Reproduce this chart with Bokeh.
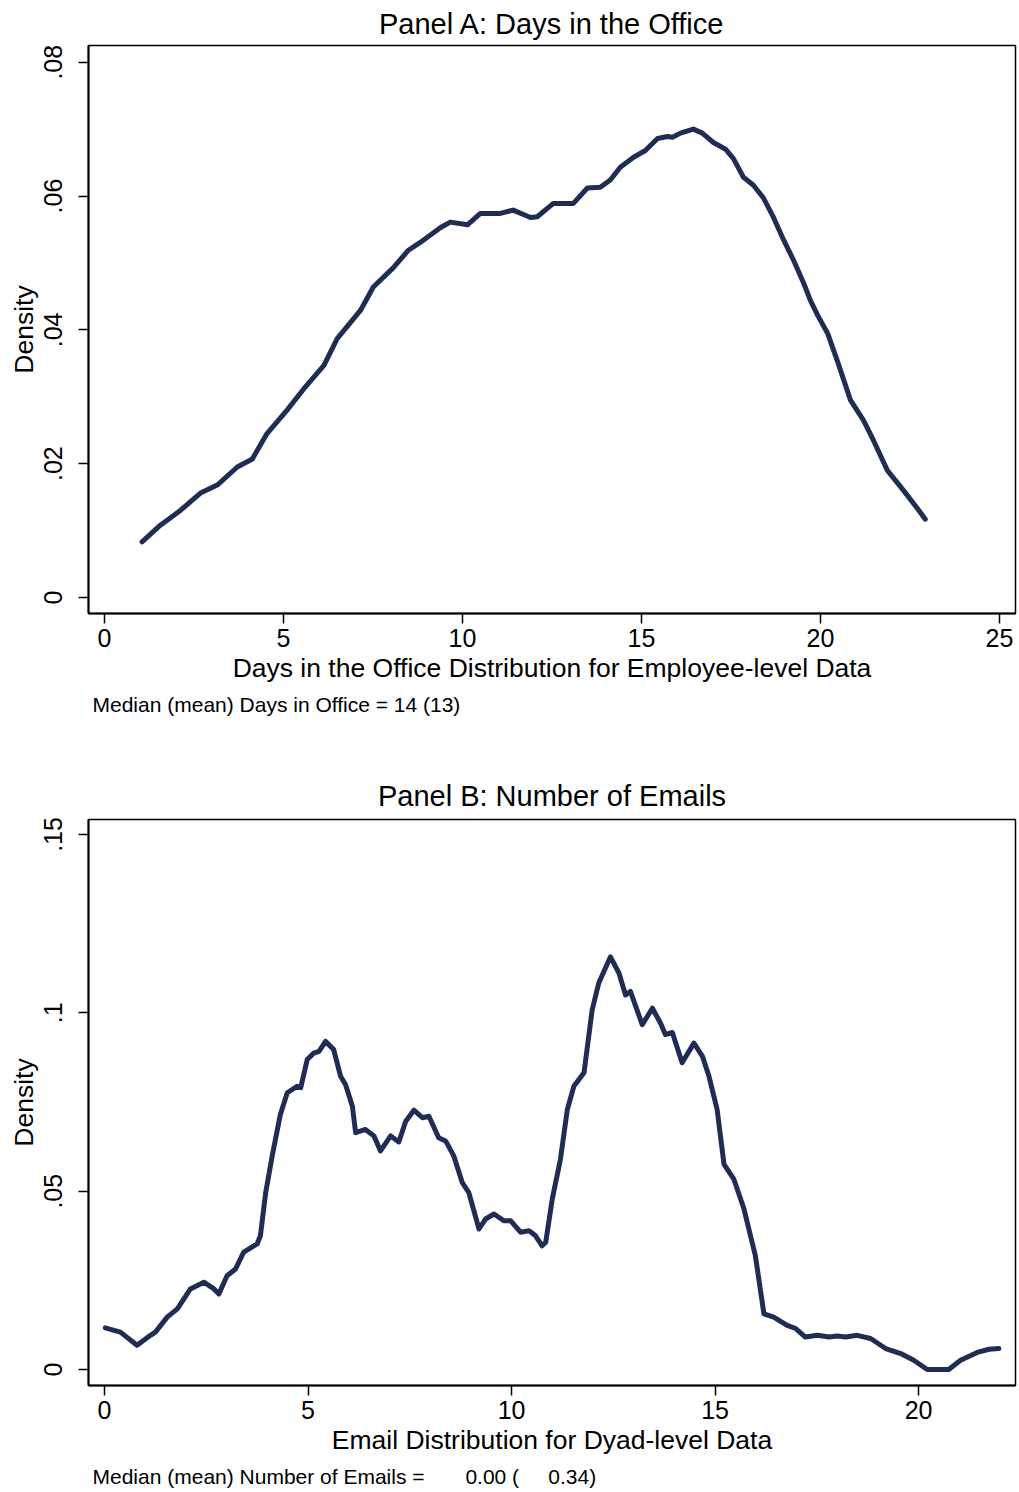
from bokeh.plotting import figure
from bokeh.models import Range1d, FixedTicker, Title
from bokeh.layouts import column
from bokeh.embed import file_html
from bokeh.resources import INLINE

# ---------------- Data ----------------
days_x = [1.05, 1.56, 2.12, 2.68, 3.15, 3.71, 4.13, 4.54, 5.10, 5.57, 6.13, 6.50, 7.15, 7.51,
          8.07, 8.49, 8.83, 9.39, 9.66, 10.14, 10.50, 11.06, 11.42, 11.90, 12.09, 12.54, 13.10,
          13.49, 13.85, 14.13, 14.41, 14.78, 15.11, 15.45, 15.73, 15.87, 16.09, 16.45, 16.70,
          17.01, 17.35, 17.57, 17.85, 18.13, 18.41, 18.69, 18.94, 19.25, 19.53, 19.72, 19.92,
          20.20, 20.47, 20.84, 21.20, 21.48, 21.87, 22.32, 22.71, 22.93]
days_density = [0.0083, 0.0108, 0.0130, 0.0156, 0.0168, 0.0195, 0.0207, 0.0245, 0.0280, 0.0312,
                 0.0347, 0.0387, 0.0429, 0.0464, 0.0493, 0.0519, 0.0531, 0.0553, 0.0561, 0.0557,
                 0.0574, 0.0574, 0.0579, 0.0568, 0.0569, 0.0589, 0.0589, 0.0612, 0.0613, 0.0624,
                 0.0643, 0.0658, 0.0668, 0.0686, 0.0689, 0.0688, 0.0694, 0.0700, 0.0694, 0.0680,
                 0.0670, 0.0656, 0.0628, 0.0616, 0.0597, 0.0568, 0.0538, 0.0504, 0.0470, 0.0444,
                 0.0422, 0.0395, 0.0354, 0.0295, 0.0265, 0.0235, 0.0190, 0.0160, 0.0133, 0.0117]

emails_x = [0.02, 0.39, 0.80, 1.13, 1.25, 1.54, 1.79, 2.11, 2.44, 2.69, 2.81, 3.01, 3.22, 3.42,
            3.75, 3.83, 3.96, 4.12, 4.32, 4.49, 4.73, 4.82, 4.98, 5.14, 5.27, 5.43, 5.63, 5.80,
            5.92, 6.09, 6.17, 6.41, 6.62, 6.78, 7.03, 7.23, 7.40, 7.60, 7.81, 7.97, 8.21, 8.38,
            8.58, 8.79, 8.95, 9.20, 9.36, 9.57, 9.81, 9.98, 10.22, 10.43, 10.59, 10.75, 10.84,
            11.00, 11.20, 11.37, 11.53, 11.78, 11.98, 12.14, 12.43, 12.64, 12.80, 12.92, 13.21,
            13.46, 13.66, 13.78, 13.95, 14.19, 14.48, 14.69, 14.85, 15.05, 15.22, 15.46, 15.71,
            15.99, 16.20, 16.44, 16.77, 16.98, 17.22, 17.51, 17.80, 18.00, 18.21, 18.49, 18.82,
            19.19, 19.56, 19.88, 20.21, 20.74, 21.03, 21.44, 21.73, 21.97]
emails_density = [0.0117, 0.0105, 0.0068, 0.0096, 0.0105, 0.0147, 0.0170, 0.0226, 0.0245, 0.0226,
                  0.0212, 0.0263, 0.0282, 0.0329, 0.0352, 0.0375, 0.0496, 0.0599, 0.0715, 0.0776,
                  0.0794, 0.0790, 0.0869, 0.0887, 0.0892, 0.0920, 0.0897, 0.0822, 0.0799, 0.0738,
                  0.0664, 0.0673, 0.0655, 0.0613, 0.0655, 0.0638, 0.0696, 0.0727, 0.0706, 0.0710,
                  0.0650, 0.0641, 0.0599, 0.0524, 0.0496, 0.0394, 0.0422, 0.0436, 0.0417, 0.0417,
                  0.0385, 0.0389, 0.0375, 0.0347, 0.0357, 0.0478, 0.0589, 0.0729, 0.0794, 0.0832,
                  0.1008, 0.1083, 0.1157, 0.1111, 0.1050, 0.1060, 0.0967, 0.1013, 0.0971, 0.0939,
                  0.0945, 0.0860, 0.0915, 0.0878, 0.0822, 0.0729, 0.0575, 0.0534, 0.0450, 0.0319,
                  0.0156, 0.0147, 0.0124, 0.0115, 0.0091, 0.0096, 0.0091, 0.0094, 0.0091, 0.0096,
                  0.0087, 0.0059, 0.0045, 0.0026, 0.0000, 0.0000, 0.0026, 0.0048, 0.0057, 0.0059]

days_xticks = [0, 5, 10, 15, 20, 25]
days_yticks = [0, 0.02, 0.04, 0.06, 0.08]
days_ylabels = ["0", ".02", ".04", ".06", ".08"]
emails_xticks = [0, 5, 10, 15, 20]
emails_yticks = [0, 0.05, 0.1, 0.15]
emails_ylabels = ["0", ".05", ".1", ".15"]

title_a = "Panel A: Days in the Office"
xlabel_a = "Days in the Office Distribution for Employee-level Data"
note_a = "Median (mean) Days in Office = 14 (13)"
title_b = "Panel B: Number of Emails"
xlabel_b = "Email Distribution for Dyad-level Data"
note_b = "Median (mean) Number of Emails = " + "\u00a0" * 6 + "0.00 (" + "\u00a0" * 5 + "0.34)"

FONT = "Liberation Sans"
LINE_COLOR = "#1f2d55"


def make_panel(xs, ys, xr, yr, xticks, yticks, ylabels, title, xlabel, note,
               height, border_top, border_bottom, title_standoff):
    p = figure(width=1019, height=height, output_backend="svg", toolbar_location=None,
               x_range=Range1d(*xr), y_range=Range1d(*yr),
               min_border_left=88, min_border_right=4,
               min_border_top=border_top, min_border_bottom=border_bottom)
    p.title.text = title
    p.title.align = "center"
    p.title.text_font = FONT
    p.title.text_font_size = "29px"
    p.title.text_font_style = "normal"
    p.title.text_color = "black"
    p.title.standoff = title_standoff

    p.line(xs, ys, line_color=LINE_COLOR, line_width=5, line_join="round", line_cap="round")

    p.xgrid.visible = False
    p.ygrid.visible = False
    p.outline_line_color = "black"
    p.outline_line_width = 1.5
    p.background_fill_color = "white"
    p.border_fill_color = "white"

    xa = p.xaxis[0]
    xa.ticker = FixedTicker(ticks=xticks)
    xa.minor_tick_line_color = None
    xa.major_tick_out = 10
    xa.major_tick_in = 0
    xa.axis_line_width = 2
    xa.axis_line_color = "black"
    xa.major_tick_line_width = 1.5
    xa.major_label_text_font = FONT
    xa.major_label_text_font_size = "25px"
    xa.major_label_text_color = "black"
    xa.major_label_standoff = 5
    xa.axis_label = xlabel
    xa.axis_label_text_font = FONT
    xa.axis_label_text_font_size = "26.5px"
    xa.axis_label_text_font_style = "normal"
    xa.axis_label_text_color = "black"
    xa.axis_label_standoff = 3

    ya = p.yaxis[0]
    ya.ticker = FixedTicker(ticks=yticks)
    ya.major_label_overrides = {t: l for t, l in zip(yticks, ylabels)}
    ya.minor_tick_line_color = None
    ya.major_tick_out = 10
    ya.major_tick_in = 0
    ya.axis_line_width = 2
    ya.axis_line_color = "black"
    ya.major_tick_line_width = 1.5
    ya.major_label_orientation = "vertical"
    ya.major_label_text_font = FONT
    ya.major_label_text_font_size = "25px"
    ya.major_label_text_color = "black"
    ya.major_label_standoff = 16
    ya.axis_label = "Density"
    ya.axis_label_text_font = FONT
    ya.axis_label_text_font_size = "26.5px"
    ya.axis_label_text_font_style = "normal"
    ya.axis_label_text_color = "black"
    ya.axis_label_standoff = 3

    p.add_layout(Title(text=note, align="left", offset=4, text_font=FONT,
                       text_font_size="21px", text_font_style="normal",
                       text_color="black"), "below")
    return p


pA = make_panel(days_x, days_density, (-0.447, 25.45), (-0.0024, 0.0825),
                days_xticks, days_yticks, days_ylabels, title_a, xlabel_a, note_a,
                height=760, border_top=45, border_bottom=147, title_standoff=11)
pB = make_panel(emails_x, emails_density, (-0.393, 22.38), (-0.00447, 0.1542),
                emails_xticks, emails_yticks, emails_ylabels, title_b, xlabel_b, note_b,
                height=732, border_top=59, border_bottom=105, title_standoff=15)

layout = column(pA, pB, spacing=0)
open("out.html", "w").write(file_html(layout, INLINE))
